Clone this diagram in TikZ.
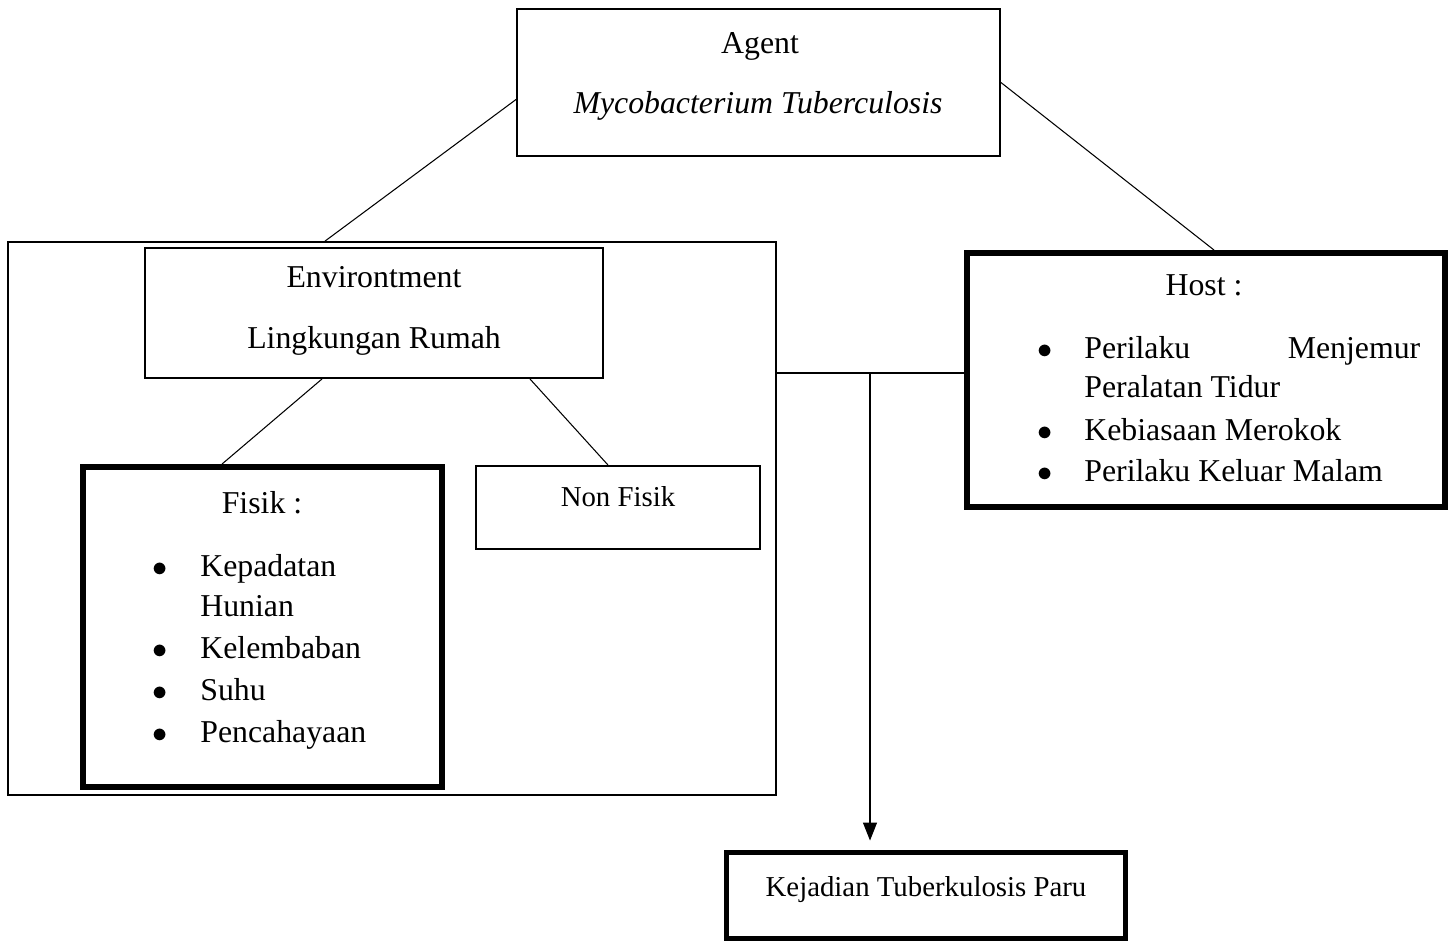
\documentclass[tikz,border=0pt]{standalone}
\usepackage{fontspec}
\setmainfont{Liberation Serif}
\usepackage{tikz}
\usetikzlibrary{arrows.meta,positioning}

\begin{document}
\begin{tikzpicture}[x=0.02cm, y=-0.02cm,
        box/.style={rectangle, draw, inner sep=0pt, line width=1.1pt},
        heavybox/.style={rectangle, draw, inner sep=0pt, line width=3.4pt},
        txt/.style={inner sep=0pt, anchor=base, font=\fontsize{18.1}{22}\selectfont},
        smalltxt/.style={inner sep=0pt, anchor=base, font=\fontsize{16.4}{20}\selectfont},
        itemtxt/.style={inner sep=0pt, anchor=base west, font=\fontsize{18.1}{22}\selectfont},
        dot/.style={inner sep=0pt, anchor=base, font=\fontsize{18.1}{22}\selectfont},
        arrow/.style={-{Triangle[width=0.28cm, length=0.36cm]}, line width=0.6pt}]

    \useasboundingbox (0,0) rectangle (1452,943);

    % boxes
    \node[box, minimum width=9.66cm, minimum height=2.94cm] (agent) at (758.5,82.5) {};
    \node[box, minimum width=15.36cm, minimum height=11.06cm] (envout) at (392,518.5) {};
    \node[box, minimum width=9.16cm, minimum height=2.6cm] (envin) at (374,313) {};
    \node[heavybox, minimum width=7.18cm, minimum height=6.4cm] (fisik) at (262.5,627) {};
    \node[box, minimum width=5.68cm, minimum height=1.66cm] (nonfisik) at (618,507.5) {};
    \node[heavybox, minimum width=9.56cm, minimum height=5.08cm] (host) at (1206,380) {};
    \node[heavybox, line width=2.8pt, minimum width=7.98cm, minimum height=1.72cm] (kejadian) at (926,895.5) {};

    % texts
    \node[txt] (agentname) at (760,53) {Agent};
    \node[txt, font=\fontsize{18.1}{22}\selectfont\itshape] (agentsp) at (758,113) {Mycobacterium Tuberculosis};
    \node[txt] (envname) at (374,287) {Environtment};
    \node[txt] (envsub) at (374,348) {Lingkungan Rumah};
    \node[txt] (fisiktitle) at (262,513) {Fisik :};
    \node[smalltxt] (nonfisiktitle) at (618,506) {Non Fisik};
    \node[txt] (hosttitle) at (1204,295) {Host :};
    \node[smalltxt] (kejadiantitle) at (926,896) {Kejadian Tuberkulosis Paru};

    % fisik list
    \node[dot] (f1) at (160,576) {$\bullet$};
    \node[itemtxt] (f1a) at (200,576) {Kepadatan};
    \node[itemtxt] (f1b) at (200,616) {Hunian};
    \node[dot] (f2) at (160,658) {$\bullet$};
    \node[itemtxt] (f2a) at (200,658) {Kelembaban};
    \node[dot] (f3) at (160,700) {$\bullet$};
    \node[itemtxt] (f3a) at (200,700) {Suhu};
    \node[dot] (f4) at (160,742) {$\bullet$};
    \node[itemtxt] (f4a) at (200,742) {Pencahayaan};

    % host list
    \node[dot] (h1) at (1045,358) {$\bullet$};
    \node[itemtxt] (h1a) at (1084,358) {\makebox[6.72cm][s]{Perilaku\hfill Menjemur}};
    \node[itemtxt] (h1b) at (1084,397) {Peralatan Tidur};
    \node[dot] (h2) at (1045,440) {$\bullet$};
    \node[itemtxt] (h2a) at (1084,440) {Kebiasaan Merokok};
    \node[dot] (h3) at (1045,481) {$\bullet$};
    \node[itemtxt] (h3a) at (1084,481) {Perilaku Keluar Malam};

    % connectors
    \coordinate (join) at (870,373);
    \draw[line width=0.6pt] (agent.184) -- ([xshift=-1.34cm]envout.north);
    \draw[line width=0.6pt] (agent.east) -- ([xshift=0.16cm]host.north);
    \draw[line width=0.6pt] ([xshift=-1.04cm]envin.south) -- ([xshift=-0.81cm]fisik.north);
    \draw[line width=0.6pt] ([xshift=3.12cm]envin.south) -- ([xshift=-0.2cm]nonfisik.north);
    \draw[line width=0.6pt] (join -| envout.east) -- (join -| host.west);
    \draw[arrow, shorten >=0.19cm] (join) -- (join |- kejadian.north);
\end{tikzpicture}
\end{document}
